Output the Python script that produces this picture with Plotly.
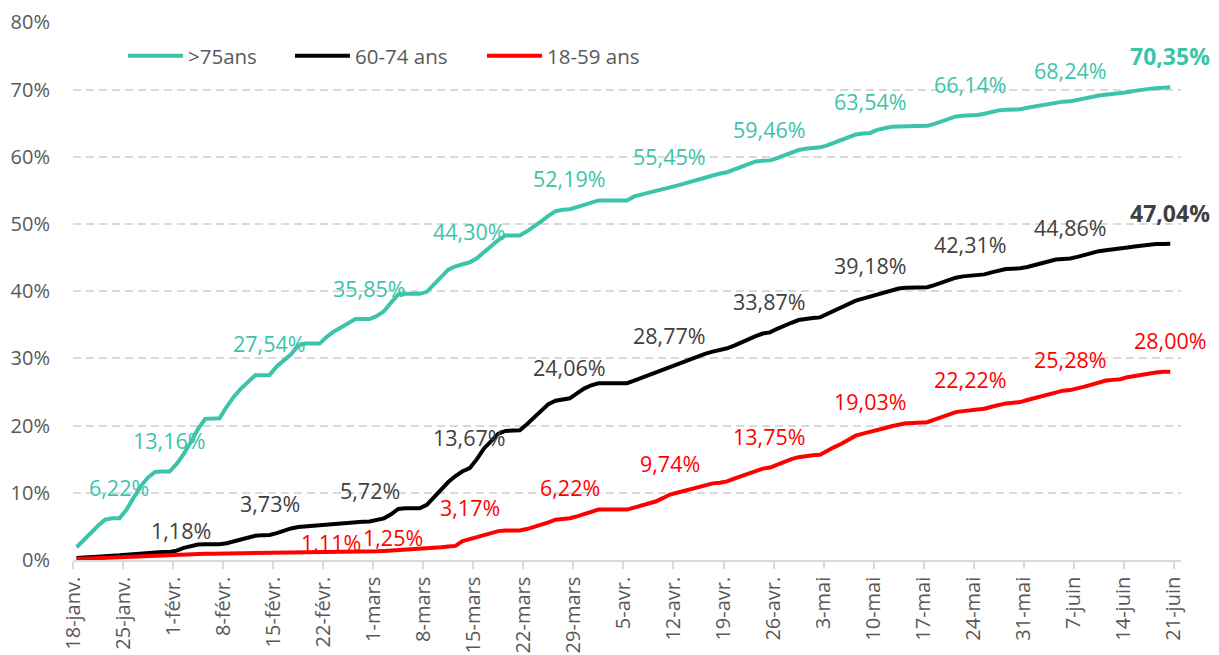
import plotly.graph_objects as go
import pandas as pd

# ---------------- DATA ----------------
start_date = "2021-01-18 12:00"

over75 = [
    1.9, 3.0, 4.1, 5.1, 6.0, 6.2, 6.22,
    7.5, 9.3, 11.0, 12.3, 13.1, 13.15, 13.16,
    14.3, 15.8, 17.6, 19.5, 21.0, 21.1, 21.1,
    22.8, 24.3, 25.5, 26.6, 27.5, 27.5, 27.54,
    28.8, 29.8, 30.6, 31.9, 32.2, 32.2, 32.2,
    33.2, 34.0, 34.6, 35.2, 35.85, 35.85, 35.85,
    36.3, 37.0, 38.3, 39.5, 39.6, 39.6, 39.6,
    39.9, 41.0, 42.1, 43.2, 43.7, 44.0, 44.30,
    44.9, 45.8, 46.7, 47.6, 48.3, 48.3, 48.3,
    48.9, 49.6, 50.4, 51.2, 51.9, 52.1, 52.19,
    52.5, 52.8, 53.2, 53.5, 53.5, 53.5, 53.5,
    53.5, 54.1, 54.4, 54.7, 55.0, 55.2, 55.45,
    55.7, 56.0, 56.3, 56.6, 57.0, 57.3, 57.5,
    57.7, 58.1, 58.5, 58.9, 59.3, 59.4, 59.46,
    59.8, 60.2, 60.6, 61.0, 61.2, 61.3, 61.4,
    61.7, 62.1, 62.6, 63.0, 63.3, 63.45, 63.54,
    64.0, 64.3, 64.45, 64.5, 64.55, 64.6, 64.6,
    64.6, 64.9, 65.3, 65.7, 66.0, 66.1, 66.14,
    66.2, 66.4, 66.7, 66.9, 67.0, 67.0, 67.05,
    67.3, 67.5, 67.7, 67.9, 68.1, 68.2, 68.24,
    68.5, 68.7, 68.9, 69.1, 69.2, 69.3, 69.4,
    69.6, 69.8, 70.0, 70.1, 70.2, 70.3, 70.35,
]

age60_74 = [
    0.3, 0.4, 0.45, 0.5, 0.6, 0.65, 0.7,
    0.8, 0.9, 1.0, 1.1, 1.15, 1.18, 1.18,
    1.4, 1.8, 2.1, 2.3, 2.35, 2.35, 2.35,
    2.5, 2.8, 3.1, 3.4, 3.6, 3.7, 3.73,
    4.0, 4.4, 4.7, 4.9, 5.0, 5.05, 5.1,
    5.2, 5.35, 5.45, 5.55, 5.65, 5.7, 5.72,
    5.9, 6.2, 6.8, 7.6, 7.7, 7.7, 7.7,
    8.2, 9.4, 10.6, 11.6, 12.5, 13.2, 13.67,
    15.0, 16.6, 17.8, 18.8, 19.2, 19.2, 19.3,
    20.2, 21.2, 22.2, 23.2, 23.7, 23.9, 24.06,
    24.8, 25.5, 26.0, 26.3, 26.3, 26.3, 26.3,
    26.3, 26.7, 27.1, 27.5, 27.9, 28.3, 28.77,
    29.1, 29.5, 29.9, 30.3, 30.7, 31.0, 31.2,
    31.5, 31.9, 32.4, 32.9, 33.3, 33.7, 33.87,
    34.4, 34.9, 35.3, 35.7, 35.9, 36.0, 36.1,
    36.6, 37.1, 37.6, 38.1, 38.6, 38.9, 39.18,
    39.5, 39.8, 40.1, 40.4, 40.5, 40.55, 40.6,
    40.6, 40.9, 41.3, 41.7, 42.0, 42.2, 42.31,
    42.35, 42.5, 42.8, 43.1, 43.3, 43.35, 43.4,
    43.6, 43.9, 44.2, 44.5, 44.7, 44.8, 44.86,
    45.1, 45.4, 45.8, 45.95, 46.1, 46.2, 46.3,
    46.5, 46.65, 46.8, 46.9, 47.0, 47.03, 47.04,
]

age18_59 = [
    0.15, 0.2, 0.25, 0.3, 0.35, 0.38, 0.4,
    0.45, 0.5, 0.55, 0.6, 0.65, 0.67, 0.68,
    0.72, 0.78, 0.83, 0.88, 0.92, 0.93, 0.94,
    0.97, 1.0, 1.03, 1.06, 1.09, 1.1, 1.11,
    1.13, 1.15, 1.17, 1.19, 1.2, 1.2, 1.21,
    1.22, 1.23, 1.24, 1.24, 1.25, 1.25, 1.25,
    1.3, 1.35, 1.42, 1.48, 1.52, 1.53, 1.55,
    1.65, 1.8, 1.9, 2.0, 2.1, 2.8, 3.17,
    3.4, 3.7, 4.0, 4.3, 4.4, 4.4, 4.4,
    4.6, 4.9, 5.2, 5.6, 6.0, 6.1, 6.22,
    6.5, 6.8, 7.2, 7.5, 7.5, 7.5, 7.5,
    7.5, 7.8, 8.1, 8.4, 8.7, 9.2, 9.74,
    10.0, 10.3, 10.5, 10.8, 11.1, 11.4, 11.5,
    11.7, 12.1, 12.5, 12.9, 13.2, 13.6, 13.75,
    14.2, 14.7, 15.0, 15.3, 15.5, 15.6, 15.65,
    16.3, 16.8, 17.3, 17.9, 18.5, 18.8, 19.03,
    19.3, 19.6, 19.9, 20.2, 20.35, 20.4, 20.45,
    20.5, 20.9, 21.3, 21.7, 22.0, 22.15, 22.22,
    22.3, 22.5, 22.8, 23.1, 23.3, 23.4, 23.5,
    23.8, 24.1, 24.4, 24.7, 25.0, 25.2, 25.28,
    25.5, 25.8, 26.1, 26.4, 26.7, 26.8, 26.9,
    27.2, 27.4, 27.6, 27.8, 27.9, 28.0, 28.0,
]

series_names = [">75ans", "60-74 ans", "18-59 ans"]

# indices (days since 18 janv.) carrying a value label
labels_over75 = [6, 13, 27, 41, 55, 69, 83, 97, 111, 125, 139, 153]
labels_60_74 = [13, 27, 41, 55, 69, 83, 97, 111, 125, 139, 153]
labels_18_59 = [27, 41, 55, 69, 83, 97, 111, 125, 139, 153]

tick_dates = pd.date_range("2021-01-18", "2021-06-21", freq="7D")
tick_labels = [
    "18-janv.", "25-janv.", "1-févr.", "8-févr.", "15-févr.", "22-févr.",
    "1-mars", "8-mars", "15-mars", "22-mars", "29-mars", "5-avr.",
    "12-avr.", "19-avr.", "26-avr.", "3-mai", "10-mai", "17-mai",
    "24-mai", "31-mai", "7-juin", "14-juin", "21-juin",
]
y_ticks = [0, 10, 20, 30, 40, 50, 60, 70, 80]

# ---------------- STYLE ----------------
FONT = "Open Sans"
colors = ["#3BC4A9", "#000000", "#FF0000"]
label_colors = ["#3BC4A9", "#404040", "#FF0000"]
legend_x = [0.0451, 0.1958, 0.3691]
# manual label offsets (px) where labels were moved in the original
special_shift = {
    (1, 13): (11.5, 22),
    (2, 27): (61.5, 10.5),
    (2, 41): (23.5, 14.6),
}

dates = pd.date_range(start_date, periods=len(over75), freq="D")
all_series = [over75, age60_74, age18_59]
all_labels = [labels_over75, labels_60_74, labels_18_59]
legend_ids = ["legend", "legend2", "legend3"]

fig = go.Figure()
for name, vals, col, lg in zip(series_names, all_series, colors, legend_ids):
    fig.add_trace(go.Scatter(
        x=dates, y=vals, mode="lines", name=name, legend=lg,
        line=dict(color=col, width=4),
        hovertemplate="%{y:.2f}%<extra>" + name + "</extra>",
    ))

annotations = []
for s, (vals, idxs) in enumerate(zip(all_series, all_labels)):
    for i in idxs:
        v = vals[i]
        txt = f"{v:.2f}".replace(".", ",") + "%"
        last = (i == len(vals) - 1)
        bold = last and s < 2
        if bold:
            txt = "<b>" + txt + "</b>"
        xs, ys = special_shift.get((s, i), (0, 31))
        annotations.append(dict(
            x=dates[i], y=v, xref="x", yref="y", text=txt, showarrow=False,
            xanchor="center", yanchor="middle", xshift=xs, yshift=ys,
            font=dict(family=FONT, size=23 if bold else 21.5,
                      color=label_colors[s]),
        ))

legend_style = dict(
    orientation="h", y=0.937, xanchor="left", yanchor="middle",
    font=dict(family=FONT, size=20.5, color="#595959"),
    bgcolor="rgba(0,0,0,0)", itemwidth=55,
)

fig.update_layout(
    width=1219, height=655,
    margin=dict(l=73, r=38, t=22, b=95, autoexpand=False),
    paper_bgcolor="white", plot_bgcolor="white",
    font=dict(family=FONT, size=20, color="#595959"),
    annotations=annotations,
    showlegend=True,
    legend=dict(x=legend_x[0], **legend_style),
    legend2=dict(x=legend_x[1], **legend_style),
    legend3=dict(x=legend_x[2], **legend_style),
    hovermode="x unified",
)

fig.update_xaxes(
    type="date", automargin=False,
    range=[pd.Timestamp("2021-01-18"), pd.Timestamp("2021-06-22")],
    tickmode="array", tickvals=tick_dates, ticktext=tick_labels,
    tickangle=-90, tickfont=dict(family=FONT, size=20, color="#595959"),
    showgrid=False, showline=True, linecolor="#D9D9D9", linewidth=1.5,
    ticks="outside", ticklen=7, tickcolor="#D9D9D9", tickwidth=1.5,
    zeroline=False,
)
fig.update_yaxes(
    automargin=False,
    range=[0, 80.05], tickmode="array", tickvals=y_ticks,
    ticktext=[f"{t}%" for t in y_ticks],
    tickfont=dict(family=FONT, size=20, color="#595959"),
    showgrid=True, gridcolor="#D9D9D9", gridwidth=1.5, griddash="8px,5px",
    zeroline=False, showline=False, ticks="", ticklabelstandoff=22,
)

fig.write_html(
    "out.html",
    config={"displayModeBar": False},
    post_script="document.body.style.margin='0';",
)
